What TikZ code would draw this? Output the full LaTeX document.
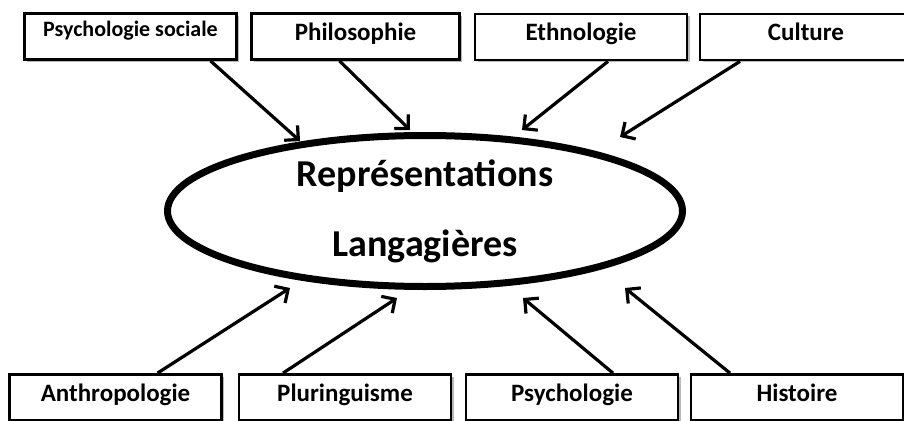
\documentclass[tikz,border=0pt]{standalone}
\usepackage{fontspec}
\setmainfont{Carlito}
\usetikzlibrary{arrows.meta, shapes.geometric, shadows}

\begin{document}
\begin{tikzpicture}[x=1pt, y=-1pt, >={Straight Barb[length=10pt, width=20pt]},
    box/.style={rectangle, draw, line width=2.8pt, fill=white, minimum width=212pt, minimum height=46pt,
        inner sep=0pt, text height=27pt, text depth=19pt, font=\fontsize{25}{28}\selectfont\bfseries,
        drop shadow={shadow xshift=2.5pt, shadow yshift=-2.5pt, fill=gray!55, opacity=1}},
    link/.style={->, line width=3.2pt}]
    \useasboundingbox (0, 0) rectangle (904, 420);
    \clip (0, 0) rectangle (904, 420);
    % centre
    \node [ellipse, draw, line width=7pt, minimum width=515pt, minimum height=151pt, inner sep=0pt,
        align=center, font=\fontsize{38}{70}\selectfont\bfseries] (rep) at (425, 211) {Représentations\\Langagières};
    % haut
    \node [box, font=\fontsize{22}{24}\selectfont\bfseries, text height=23pt, text depth=23pt] (t1) at (130.5, 36.5) {Psychologie sociale};
    \node [box, minimum width=208pt] (t2) at (355.5, 36.5) {Philosophie};
    \node [box] (t3) at (581, 37) {Ethnologie};
    \node [box] (t4) at (806, 37) {Culture};
    % bas
    \node [box] (b1) at (115.5, 397.5) {Anthropologie};
    \node [box] (b2) at (345, 397.5) {Pluringuisme};
    \node [box] (b3) at (572, 397.5) {Psychologie};
    \node [box] (b4) at (797, 397.5) {Histoire};
    \draw [link] ([xshift=80pt]t1.south) -- ([shift={(-125, -70)}]rep.center);
    \draw [link] ([xshift=-16pt]t2.south) -- ([shift={(-15, -81)}]rep.center);
    \draw [link] ([xshift=27pt]t3.south) -- ([shift={(97, -81)}]rep.center);
    \draw [link] ([xshift=-66pt]t4.south) -- ([shift={(195, -74)}]rep.center);
    \draw [link] ([xshift=42pt]b1.north) -- ([shift={(-135, 77)}]rep.center);
    \draw [link] ([xshift=-62pt]b2.north) -- ([shift={(-28, 87)}]rep.center);
    \draw [link] ([xshift=41pt]b3.north) -- ([shift={(98, 87)}]rep.center);
    \draw [link] ([xshift=-67pt]b4.north) -- ([shift={(200, 77)}]rep.center);
\end{tikzpicture}
\end{document}
